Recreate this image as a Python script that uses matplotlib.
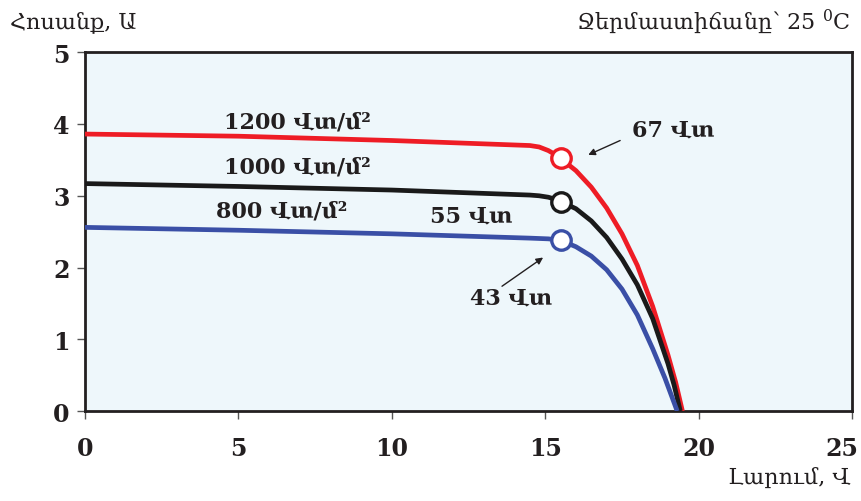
import matplotlib
matplotlib.use("Agg")
import matplotlib.pyplot as plt
from matplotlib.transforms import ScaledTranslation

plt.rcParams['font.family'] = ['DejaVu Serif', 'DejaVu Sans']
plt.rcParams['mathtext.fontset'] = 'dejavuserif'

# Current-voltage curves of a solar panel at three irradiance levels
v_1200 = [0, 5, 10, 14.5, 14.8, 15.1, 15.3, 15.5, 16.0, 16.5, 17.0, 17.5, 18.0, 18.5,
          19.0, 19.25, 19.47]
i_1200 = [3.86, 3.83, 3.77, 3.70, 3.68, 3.63, 3.58, 3.52, 3.35, 3.12, 2.83, 2.47, 2.03, 1.46,
          0.78, 0.40, 0.0]

v_1000 = [0, 5, 10, 14.5, 14.8, 15.1, 15.3, 15.5, 16.0, 16.5, 17.0, 17.5, 18.0, 18.5,
          19.0, 19.2, 19.4]
i_1000 = [3.17, 3.13, 3.08, 3.01, 3.00, 2.98, 2.955, 2.92, 2.82, 2.65, 2.42, 2.12, 1.76, 1.29,
          0.66, 0.36, 0.0]

v_800 = [0, 5, 10, 14.5, 14.8, 15.1, 15.3, 15.5, 16.0, 16.5, 17.0, 17.5, 18.0, 18.5,
         18.9, 19.3]
i_800 = [2.56, 2.52, 2.47, 2.41, 2.405, 2.40, 2.39, 2.38, 2.29, 2.16, 1.97, 1.70, 1.34, 0.87,
         0.46, 0.0]

# Maximum power points
mpp_v = [15.5, 15.5, 15.5]
mpp_i = [3.52, 2.92, 2.38]

colors = ['#ee1c25', '#1a1a1a', '#3a4fa6']
curve_labels = ['1200 Վտ/մ²', '1000 Վտ/մ²', '800 Վտ/մ²']
power_labels = ['67 Վտ', '55 Վտ', '43 Վտ']

x_ticks = [0, 5, 10, 15, 20, 25]
y_ticks = [0, 1, 2, 3, 4, 5]

fig = plt.figure(figsize=(8.61, 5.02), dpi=100)
ax = fig.add_axes([0.0987, 0.179, 0.891, 0.715])
ax.set_facecolor('#eef7fb')

curves = [(v_1200, i_1200), (v_1000, i_1000), (v_800, i_800)]
for (v, i), c in zip(curves, colors):
    ax.plot(v, i, color=c, lw=3.4, solid_capstyle='butt', solid_joinstyle='round', zorder=3)
for v, i, c in zip(mpp_v, mpp_i, colors):
    ax.plot(v, i, 'o', ms=14, mfc='white', mec=c, mew=2.4, zorder=4)

tcol = '#231f20'
fs = 16
lab = dict(fontsize=fs, color=tcol, va='center', ha='left', fontweight='bold')
ax.text(4.53, 4.04, curve_labels[0], **lab)
ax.text(4.53, 3.41, curve_labels[1], **lab)
ax.text(4.27, 2.80, curve_labels[2], **lab)

ax.text(17.83, 3.93, power_labels[0], **lab)
ax.text(11.25, 2.72, power_labels[1], **lab)
ax.text(12.55, 1.59, power_labels[2], **lab)

arrow = dict(arrowstyle='-|>', color=tcol, lw=1.0, shrinkA=0, shrinkB=0, mutation_scale=10)
ax.annotate('', xy=(16.40, 3.57), xytext=(17.44, 3.77), arrowprops=arrow)
ax.annotate('', xy=(14.93, 2.14), xytext=(13.59, 1.74), arrowprops=arrow)

ax.set_xlim(0, 25)
ax.set_ylim(0, 5)
ax.set_xticks(x_ticks)
ax.set_yticks(y_ticks)
ax.tick_params(axis='both', direction='out', length=6, width=1.0,
               labelsize=17, labelcolor=tcol, color='#555555')
ax.tick_params(axis='x', pad=12)
ax.tick_params(axis='y', pad=5)
for t in ax.get_xticklabels() + ax.get_yticklabels():
    t.set_fontweight('bold')
for s in ax.spines.values():
    s.set_linewidth(2.0)
    s.set_color('#231f20')

# keep the last voltage tick label inside the canvas
last = ax.xaxis.get_major_ticks()[-1].label1
last.set_transform(last.get_transform() + ScaledTranslation(-10 / 100, 0, fig.dpi_scale_trans))

title_kw = dict(fontsize=16, color=tcol, va='center')
fig.text(10 / 861, 1 - 22 / 502, 'Հոսանք, Ա', ha='left', **title_kw)
fig.text(850 / 861, 1 - 22 / 502, 'Ջերմաստիճանը՝ 25 $^{0}$C', ha='right', **title_kw)
fig.text(850 / 861, 1 - 478 / 502, 'Լարում, Վ', ha='right', **title_kw)

fig.savefig('out.png', dpi=100)
